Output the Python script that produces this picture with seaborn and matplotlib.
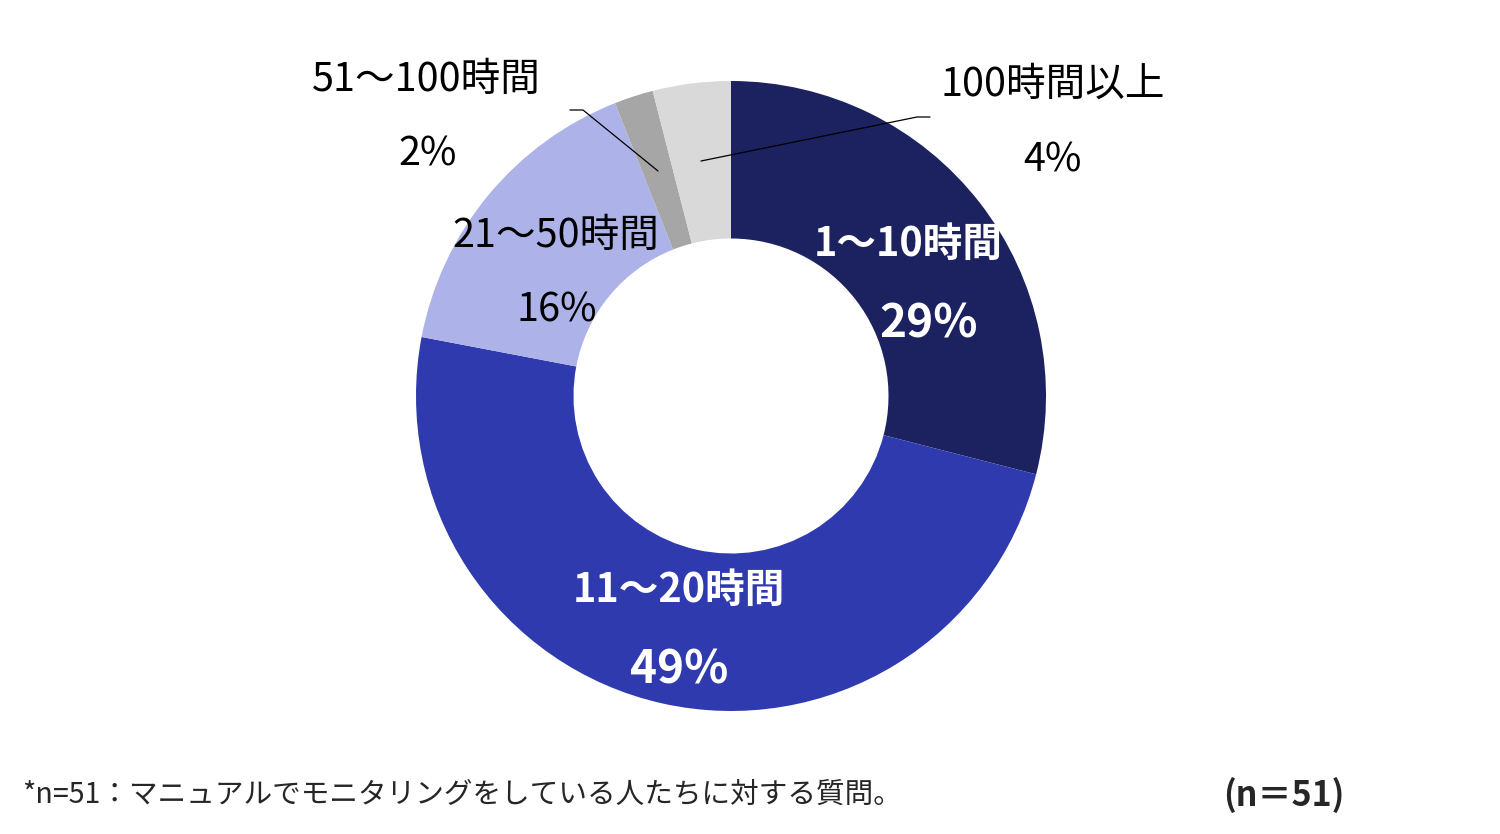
import matplotlib
matplotlib.use("Agg")
import matplotlib.pyplot as plt
import seaborn as sns

# data (clockwise from 12 o'clock)
categories = ["1～10時間", "11～20時間", "21～50時間", "51～100時間", "100時間以上"]
shares = [29, 49, 16, 2, 4]
colors = ["#1c2260", "#2f3aae", "#adb3e8", "#a6a6a6", "#d9d9d9"]
footnote = "*n=51：マニュアルでモニタリングをしている人たちに対する質問。"
sample_note = "(n＝51)"

sns.set_theme(style="white")
plt.rcParams["font.family"] = ["Noto Sans CJK JP", "DejaVu Sans"]

W, H = 1500, 834
fig = plt.figure(figsize=(W / 100, H / 100), dpi=100)
ax = fig.add_axes([0, 0, 1, 1])

ax.pie(shares, colors=colors, startangle=90, counterclock=False,
       radius=1, wedgeprops=dict(width=0.5, linewidth=0))

# pixel layout: pie centre (731, 396), outer radius 315 px
cx, cy, R = 731, 396, 315
ax.set_xlim(-cx / R, (W - cx) / R)
ax.set_ylim((cy - H) / R, cy / R)
ax.set_aspect("equal")
ax.axis("off")


def px(x, y):
    return (x - cx) / R, (cy - y) / R


# label layout in pixels: (name x, name y, pct x, pct y, colour, weight, pct size)
layout = [
    (908, 244, 929, 325, "white", "bold", 33),
    (679, 590, 679, 671, "white", "bold", 33),
    (556, 236, 557, 310, "black", "normal", 28.5),
    (426, 80, 428, 155, "black", "normal", 28.5),
    (1053, 85, 1052, 161, "black", "normal", 28.5),
]
for name, val, (nx, ny, vx, vy, c, w, ps) in zip(categories, shares, layout):
    ax.text(*px(nx, ny), name, ha="center", va="center", fontsize=28.5,
            color=c, fontweight=w)
    ax.text(*px(vx, vy), f"{val}%", ha="center", va="center", fontsize=ps,
            color=c, fontweight=w)

# leader lines for the small slices
for pts in ([(570, 110), (583, 110), (658, 171)],
            [(930, 117), (917, 117), (701, 161)]):
    xs, ys = zip(*[px(x, y) for x, y in pts])
    ax.plot(xs, ys, color="black", lw=0.9)

fig.text(22 / W, 1 - 795 / H, footnote, ha="left", va="center", fontsize=20.6)
fig.text(1345 / W, 1 - 795 / H, sample_note, ha="right", va="center",
         fontsize=24.5, fontweight="bold")

fig.savefig("out.png", dpi=100, facecolor="white")
